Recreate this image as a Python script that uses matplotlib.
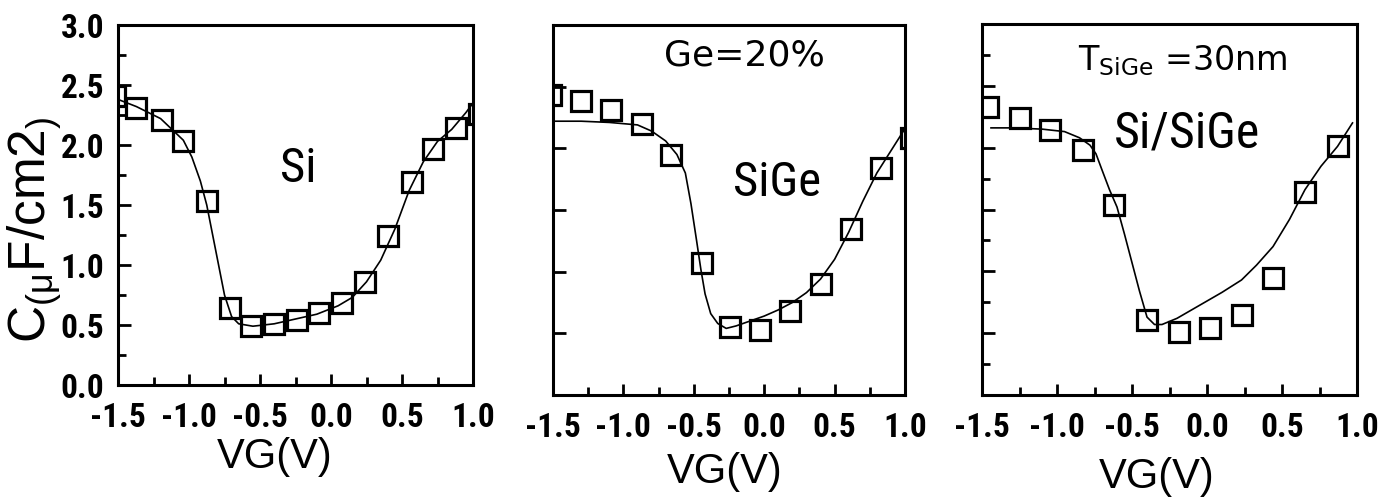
import matplotlib
matplotlib.use("Agg")
import matplotlib.pyplot as plt
from matplotlib.ticker import MultipleLocator, NullFormatter, FormatStrFormatter
import logging
logging.getLogger("matplotlib.font_manager").setLevel(logging.ERROR)

# ---------------- data ----------------
# Panel 1: Si
si_vg_meas = [-1.52, -1.37, -1.19, -1.04, -0.875, -0.71, -0.56, -0.40, -0.24, -0.085,
              0.08, 0.24, 0.40, 0.57, 0.72, 0.88, 1.04]
si_c_meas = [2.41, 2.31, 2.21, 2.03, 1.53, 0.64, 0.49, 0.51, 0.54, 0.60,
             0.68, 0.86, 1.24, 1.69, 1.97, 2.14, 2.26]
si_vg_fit = [-1.5, -1.37, -1.2, -1.04, -0.98, -0.92, -0.875, -0.8, -0.75, -0.7, -0.65,
             -0.55, -0.4, -0.25, -0.1, 0.05, 0.15, 0.25, 0.35, 0.45, 0.55, 0.65, 0.75,
             0.85, 0.95, 1.0]
si_c_fit = [2.38, 2.32, 2.22, 2.04, 1.90, 1.70, 1.50, 1.05, 0.75, 0.57, 0.51,
            0.49, 0.51, 0.55, 0.59, 0.66, 0.73, 0.86, 1.04, 1.30, 1.62, 1.86, 2.03,
            2.13, 2.27, 2.35]

# Panel 2: SiGe (Ge=20%)
sige_vg_meas = [-1.515, -1.30, -1.09, -0.87, -0.66, -0.445, -0.24, -0.03, 0.185,
                0.405, 0.618, 0.83, 1.045]
sige_c_meas = [2.43, 2.38, 2.31, 2.20, 1.95, 1.07, 0.55, 0.53, 0.68,
               0.90, 1.35, 1.84, 2.08]
sige_vg_fit = [-1.5, -1.3, -1.1, -0.9, -0.8, -0.7, -0.62, -0.56, -0.52, -0.48, -0.45,
               -0.42, -0.38, -0.33, -0.27, -0.2, -0.1, 0.0, 0.1, 0.2, 0.3, 0.4, 0.5,
               0.6, 0.7, 0.8, 0.9, 1.0]
sige_c_fit = [2.22, 2.22, 2.21, 2.19, 2.14, 2.06, 1.95, 1.80, 1.55, 1.25, 1.02,
              0.82, 0.66, 0.58, 0.54, 0.56, 0.60, 0.64, 0.69, 0.75, 0.83, 0.94, 1.10,
              1.32, 1.57, 1.80, 1.98, 2.16]

# Panel 3: Si/SiGe (T_SiGe = 30 nm)
sisige_vg_meas = [-1.46, -1.25, -1.047, -0.83, -0.62, -0.40, -0.19, 0.02, 0.23,
                  0.44, 0.653, 0.87]
sisige_c_meas = [2.33, 2.24, 2.14, 1.98, 1.54, 0.61, 0.51, 0.54, 0.65,
                 0.95, 1.645, 2.01]
sisige_vg_fit = [-1.44, -1.3, -1.1, -0.95, -0.85, -0.78, -0.74, -0.7, -0.65, -0.6,
                 -0.55, -0.5, -0.45, -0.4, -0.35, -0.3, -0.2, -0.1, 0.0, 0.1, 0.23,
                 0.33, 0.44, 0.55, 0.653, 0.76, 0.87, 0.97]
sisige_c_fit = [2.16, 2.16, 2.15, 2.13, 2.08, 2.02, 1.95, 1.82, 1.66, 1.52,
                1.30, 1.07, 0.84, 0.63, 0.57, 0.57, 0.62, 0.69, 0.76, 0.83, 0.93,
                1.05, 1.20, 1.42, 1.66, 1.85, 2.01, 2.20]

xticks = [-1.5, -1.0, -0.5, 0.0, 0.5, 1.0]
yticks = [0.0, 0.5, 1.0, 1.5, 2.0, 2.5, 3.0]

# narrow (Arial Narrow-like) fonts, first available is used
NARROW = ["Liberation Sans Narrow", "Arial Narrow", "Roboto Condensed", "Archivo Narrow",
          "PT Sans Narrow", "Fira Sans Condensed", "Liberation Sans", "DejaVu Sans"]
LAB = ["Liberation Sans", "DejaVu Sans"]

plt.rcParams["font.family"] = NARROW
plt.rcParams["font.weight"] = "bold"
plt.rcParams["xtick.labelsize"] = 24
plt.rcParams["ytick.labelsize"] = 24

W, H = 1386, 497
fig = plt.figure(figsize=(W / 100, H / 100), dpi=100)


def px_axes(l, r, t, b):
    return [l / W, 1 - b / H, (r - l) / W, (b - t) / H]


def fx(x):
    return x / W


def fy(y):
    return 1 - y / H


panels = [
    dict(box=(118, 473, 25, 385), meas=(si_vg_meas, si_c_meas), fit=(si_vg_fit, si_c_fit),
         ylabels=True, yminor=True),
    dict(box=(553, 905, 25, 395), meas=(sige_vg_meas, sige_c_meas), fit=(sige_vg_fit, sige_c_fit),
         ylabels=False, yminor=False),
    dict(box=(982, 1357, 24, 395), meas=(sisige_vg_meas, sisige_c_meas),
         fit=(sisige_vg_fit, sisige_c_fit), ylabels=False, yminor=True),
]

for p in panels:
    ax = fig.add_axes(px_axes(*p["box"]))
    ax.plot(p["fit"][0], p["fit"][1], color="black", lw=1.2, zorder=2)
    ax.plot(p["meas"][0], p["meas"][1], ls="none", marker="s", ms=14, mfc="none",
            mec="black", mew=2.3, zorder=3)
    ax.set_xlim(-1.5, 1.0)
    ax.set_ylim(0, 3.0)
    for s in ax.spines.values():
        s.set_linewidth(2.2)
    ax.set_xticks(xticks)
    ax.xaxis.set_minor_locator(MultipleLocator(0.25))
    ax.set_yticks(yticks)
    if p["yminor"]:
        ax.yaxis.set_minor_locator(MultipleLocator(0.25))
    ax.tick_params(axis="both", which="both", direction="in", top=False, right=False,
                   width=2.0)
    ax.tick_params(axis="x", which="major", length=8, pad=12)
    ax.tick_params(axis="x", which="minor", length=6)
    ax.tick_params(axis="y", which="major", length=9, pad=10)
    ax.tick_params(axis="y", which="minor", length=6)
    ax.xaxis.set_major_formatter(FormatStrFormatter("%.1f"))
    if p["ylabels"]:
        ax.yaxis.set_major_formatter(FormatStrFormatter("%.1f"))
    else:
        ax.yaxis.set_major_formatter(NullFormatter())

# axis labels
for xc, yb in [(275, 468), (725, 483), (1157, 488)]:
    fig.text(fx(xc), fy(yb), "VG(V)", ha="center", va="baseline", fontsize=30,
             family=LAB, weight="normal")

fig.text(fx(35), fy(230), r"C$_{\mathregular{(\mu}}$F/cm2$_{\mathregular{)}}$",
         rotation=90, ha="center", va="center", fontsize=37, family=LAB, weight="normal")

# annotations
fig.text(fx(298), fy(182), "Si", ha="center", va="baseline", fontsize=35,
         family=NARROW, weight="normal")
fig.text(fx(777), fy(196), "SiGe", ha="center", va="baseline", fontsize=35,
         family=NARROW, weight="normal")
fig.text(fx(1187), fy(148), "Si/SiGe", ha="center", va="baseline", fontsize=36,
         family=NARROW, weight="normal")
fig.text(fx(744), fy(66), "Ge=20%", ha="center", va="baseline", fontsize=26,
         family="DejaVu Sans", weight="normal")
fig.text(fx(1183), fy(70), r"T$_{\mathregular{SiGe}}$ =30nm", ha="center", va="baseline",
         fontsize=24, family="DejaVu Sans", weight="normal")

fig.savefig("out.png", dpi=100)
